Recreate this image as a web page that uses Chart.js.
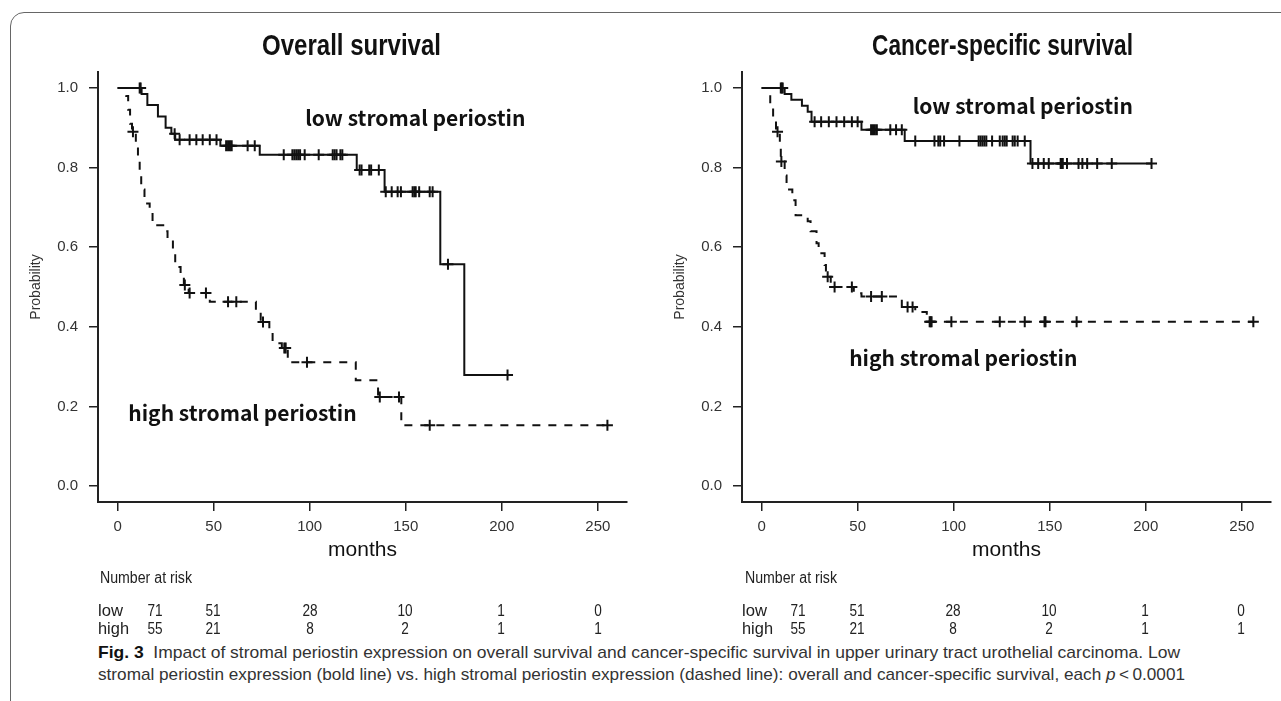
<!DOCTYPE html>
<html>
<head>
<meta charset="utf-8">
<script src="https://cdn.jsdelivr.net/npm/chart.js@4.4.0/dist/chart.umd.min.js"></script>
<style>
  body { margin: 0; background: #fff; width: 1281px; height: 701px; overflow: hidden; position: relative;
         font-family: "Liberation Sans", Arial, sans-serif; color: #111; }
  .frame { position: absolute; left: 10px; top: 12px; width: 1320px; height: 740px;
           border: 1.5px solid #666; border-radius: 14px; }
  canvas { position: absolute; top: 0; }
  .t { position: absolute; white-space: nowrap; line-height: 1; transform-origin: left center; }
  .c { position: absolute; white-space: nowrap; line-height: 1; transform: translate(-50%, -50%) scaleX(0.8); }
  .title { font-weight: bold; font-size: 30px; color: #111; }
  .risk { font-size: 17px; color: #222; }
  .head { font-size: 16px; color: #222; }
  .cap { font-size: 17px; color: #333; }
  .cap b { color: #111; }
</style>
</head>
<body>
<div class="frame"></div>
<canvas id="osChart" width="640" height="570" style="left:0"></canvas>
<canvas id="cssChart" width="640" height="570" style="left:644px"></canvas>
<div id="texts"></div>
<script>
// ---- data ----
const monthTicks = [0, 50, 100, 150, 200, 250];
const probTicks = [0, 0.2, 0.4, 0.6, 0.8, 1.0];
const riskGroups = ['low', 'high'];
const riskLow = [71, 51, 28, 10, 1, 0];
const riskHigh = [55, 21, 8, 2, 1, 1];

// overall survival, low stromal periostin (solid)
const osLowTime = [0, 12.5, 15.5, 21, 25, 28, 30, 53.5, 74, 124.5, 139, 168, 180.5];
const osLowSurv = [1, 0.985, 0.957, 0.928, 0.9, 0.885, 0.87, 0.855, 0.832, 0.794, 0.739, 0.557, 0.279];
const osLowCens = [11.5, 12, 29.7, 32.3, 37.5, 41, 44.3, 48, 51.5, 56.5, 57.5, 58.5, 59.4, 67.7, 71.4,
  86.5, 91, 92, 93, 94, 95, 97.4, 104.7, 112, 113, 114, 116, 117, 126, 127, 131, 132, 136,
  139.6, 142.7, 145.8, 147.5, 153.6, 154.5, 155.2, 157, 162.5, 164, 172, 203];

// overall survival, high stromal periostin (dashed)
const osHighTime = [0, 4.5, 5.5, 6.5, 7.5, 9.5, 10.6, 11.5, 12.3, 14, 16.7, 18.2, 24.5, 26, 28.8, 30, 32.8,
  34.5, 37, 48, 72, 74.5, 79, 80.7, 85.5, 88.6, 124, 135.6, 147.7];
const osHighSurv = [1, 0.98, 0.945, 0.91, 0.89, 0.855, 0.82, 0.78, 0.745, 0.71, 0.686, 0.655, 0.64, 0.618,
  0.593, 0.55, 0.53, 0.505, 0.485, 0.463, 0.442, 0.412, 0.388, 0.359, 0.347, 0.311, 0.266, 0.224, 0.153];
const osHighCens = [8, 35, 37.5, 46, 57.5, 61.8, 75.7, 86.8, 87.5, 98.6, 136.5, 146.5, 162.5, 255];

// cancer-specific survival, low stromal periostin (solid)
const cssLowTime = [0, 12, 15.5, 21, 24, 26, 52, 74.5, 140];
const cssLowSurv = [1, 0.985, 0.97, 0.955, 0.94, 0.915, 0.895, 0.867, 0.81];
const cssLowCens = [10, 10.5, 11, 27.6, 31, 35, 39, 43, 47, 50, 57, 58, 59, 60, 67, 70, 73,
  80, 90, 92, 93, 95, 103, 113, 114, 115, 116, 117, 120, 124, 125.5, 126.6, 127.6, 130.7, 131.8, 133.3, 137,
  141, 144, 146.9, 149.5, 155.7, 156.3, 156.8, 159, 165, 167, 169.5, 174.7, 182.3, 203];

// cancer-specific survival, high stromal periostin (dashed)
const cssHighTime = [0, 4.5, 6, 7.5, 9.5, 10, 12, 13, 16, 17.7, 24, 25.5, 28.6, 29.7, 32.8, 33.5, 36, 48, 52,
  73, 80, 86];
const cssHighSurv = [1, 0.96, 0.925, 0.89, 0.85, 0.815, 0.78, 0.745, 0.718, 0.68, 0.665, 0.64, 0.61, 0.585,
  0.555, 0.526, 0.5, 0.484, 0.476, 0.45, 0.437, 0.413];
const cssHighCens = [8.3, 10.3, 34.4, 38, 47, 57, 62.6, 76, 78.6, 87.5, 88, 88.5, 98.8, 124, 137, 147.3, 147.8,
  164, 256];

// ---- helpers ----
const FAMILY = '"Liberation Sans", Arial, sans-serif';
const INK = '#111';

function stepPoints(times, surv, cens) {
  const pts = times.map((t, i) => ({ x: t, y: surv[i] }));
  const last = Math.max(...cens);
  if (last > times[times.length - 1]) pts.push({ x: last, y: surv[surv.length - 1] });
  return pts;
}

function survAt(times, surv, t) {
  let s = surv[0];
  for (let i = 0; i < times.length; i++) if (times[i] <= t) s = surv[i];
  return s;
}

function censPoints(times, surv, cens) {
  return cens.map(t => ({ x: t, y: survAt(times, surv, t) }));
}

// draws the group names inside the plot, placed in data units
const kmText = {
  id: 'kmText',
  afterDatasetsDraw(chart, args, opts) {
    const { ctx, scales: { x, y } } = chart;
    ctx.save();
    ctx.font = '700 21px "Noto Sans CJK JP", "Noto Sans", sans-serif';
    ctx.fillStyle = INK;
    ctx.textAlign = 'center';
    ctx.textBaseline = 'middle';
    (opts.items || []).forEach(it => {
      ctx.fillText(it.text, x.getPixelForValue(it.x), y.getPixelForValue(it.y));
    });
    ctx.restore();
  }
};

function makeKM(id, low, high, labels) {
  const line = { showLine: true, stepped: 'before', borderColor: INK, borderWidth: 2, pointRadius: 0, fill: false };
  const cross = { showLine: false, pointStyle: 'cross', pointRadius: 5.5, borderColor: INK, borderWidth: 2 };
  return new Chart(document.getElementById(id), {
    type: 'scatter',
    data: {
      datasets: [
        Object.assign({ data: stepPoints(low.t, low.s, low.c) }, line),
        Object.assign({ data: censPoints(low.t, low.s, low.c) }, cross),
        Object.assign({ data: stepPoints(high.t, high.s, high.c), borderDash: [8, 8] }, line),
        Object.assign({ data: censPoints(high.t, high.s, high.c) }, cross)
      ]
    },
    options: {
      responsive: false,
      animation: false,
      events: [],
      layout: { padding: { top: 72, right: 13, left: 0, bottom: 0 } },
      plugins: { legend: { display: false }, tooltip: { enabled: false }, kmText: { items: labels } },
      scales: {
        x: {
          type: 'linear', min: -10.2, max: 265.2,
          afterBuildTicks: s => { s.ticks = monthTicks.map(v => ({ value: v })); },
          afterFit: s => { s.height = 68; },
          grid: { display: true, drawOnChartArea: false, drawTicks: true, tickLength: 9, color: '#222', lineWidth: 1.5 },
          border: { display: true, color: '#222', width: 2 },
          ticks: { color: '#333', font: { size: 15, family: FAMILY }, padding: 7, maxRotation: 0, autoSkip: false,
                   callback: v => String(v) },
          title: { display: true, text: 'months', color: INK, font: { size: 21, family: FAMILY }, padding: { bottom: 7 } }
        },
        y: {
          type: 'linear', min: -0.04, max: 1.04,
          afterBuildTicks: s => { s.ticks = probTicks.map(v => ({ value: v })); },
          afterFit: s => { s.width = 98; },
          grid: { display: true, drawOnChartArea: false, drawTicks: true, tickLength: 9, color: '#222', lineWidth: 1.5 },
          border: { display: true, color: '#222', width: 2 },
          ticks: { color: '#333', font: { size: 15, family: FAMILY }, padding: 11, autoSkip: false,
                   callback: v => v.toFixed(1) },
          title: { display: true, text: 'Probability', color: '#333', font: { size: 14, family: FAMILY }, padding: { top: 28 } }
        }
      }
    },
    plugins: [kmText]
  });
}

makeKM('osChart',
  { t: osLowTime, s: osLowSurv, c: osLowCens },
  { t: osHighTime, s: osHighSurv, c: osHighCens },
  [{ text: 'low stromal periostin', x: 155, y: 0.925 }, { text: 'high stromal periostin', x: 65, y: 0.183 }]);

makeKM('cssChart',
  { t: cssLowTime, s: cssLowSurv, c: cssLowCens },
  { t: cssHighTime, s: cssHighSurv, c: cssHighCens },
  [{ text: 'low stromal periostin', x: 136, y: 0.955 }, { text: 'high stromal periostin', x: 105, y: 0.322 }]);

// ---- html text: titles, risk table, caption ----
const box = document.getElementById('texts');
function addFit(html, cls, left, cy, width) {
  const el = document.createElement('div');
  el.className = 't ' + cls;
  el.innerHTML = html;
  box.appendChild(el);
  const r = el.getBoundingClientRect();
  el.style.left = left + 'px';
  el.style.top = (cy - r.height / 2) + 'px';
  el.style.transform = 'scaleX(' + (width / r.width) + ')';
  return el;
}
function addC(text, cls, cx, cy) {
  const el = document.createElement('div');
  el.className = 'c ' + cls;
  el.textContent = text;
  el.style.left = cx + 'px';
  el.style.top = cy + 'px';
  box.appendChild(el);
}

addFit('Overall survival', 'title', 262, 45, 179);
addFit('Cancer-specific survival', 'title', 872, 45, 261);

const riskCols = [
  { label: 98, nums: [155, 213, 310, 405, 501, 598], head: 100 },
  { label: 742, nums: [798, 857, 953, 1049, 1145, 1241], head: 745 }
];
riskCols.forEach(col => {
  addFit('Number at risk', 'head', col.head, 578, 92);
  [riskLow, riskHigh].forEach((row, r) => {
    const cy = r === 0 ? 610 : 628;
    addFit(riskGroups[r], 'risk', col.label, cy, r === 0 ? 25 : 31);
    row.forEach((n, i) => addC(String(n), 'risk', col.nums[i], cy));
  });
});

addFit('<b>Fig. 3</b>&nbsp;&nbsp;Impact of stromal periostin expression on overall survival and cancer-specific survival in upper urinary tract urothelial carcinoma. Low',
  'cap', 98, 652, 1082);
addFit('stromal periostin expression (bold line) vs. high stromal periostin expression (dashed line): overall and cancer-specific survival, each <i>p</i>&thinsp;&lt;&thinsp;0.0001',
  'cap', 98, 674, 1087);
</script>
</body>
</html>
